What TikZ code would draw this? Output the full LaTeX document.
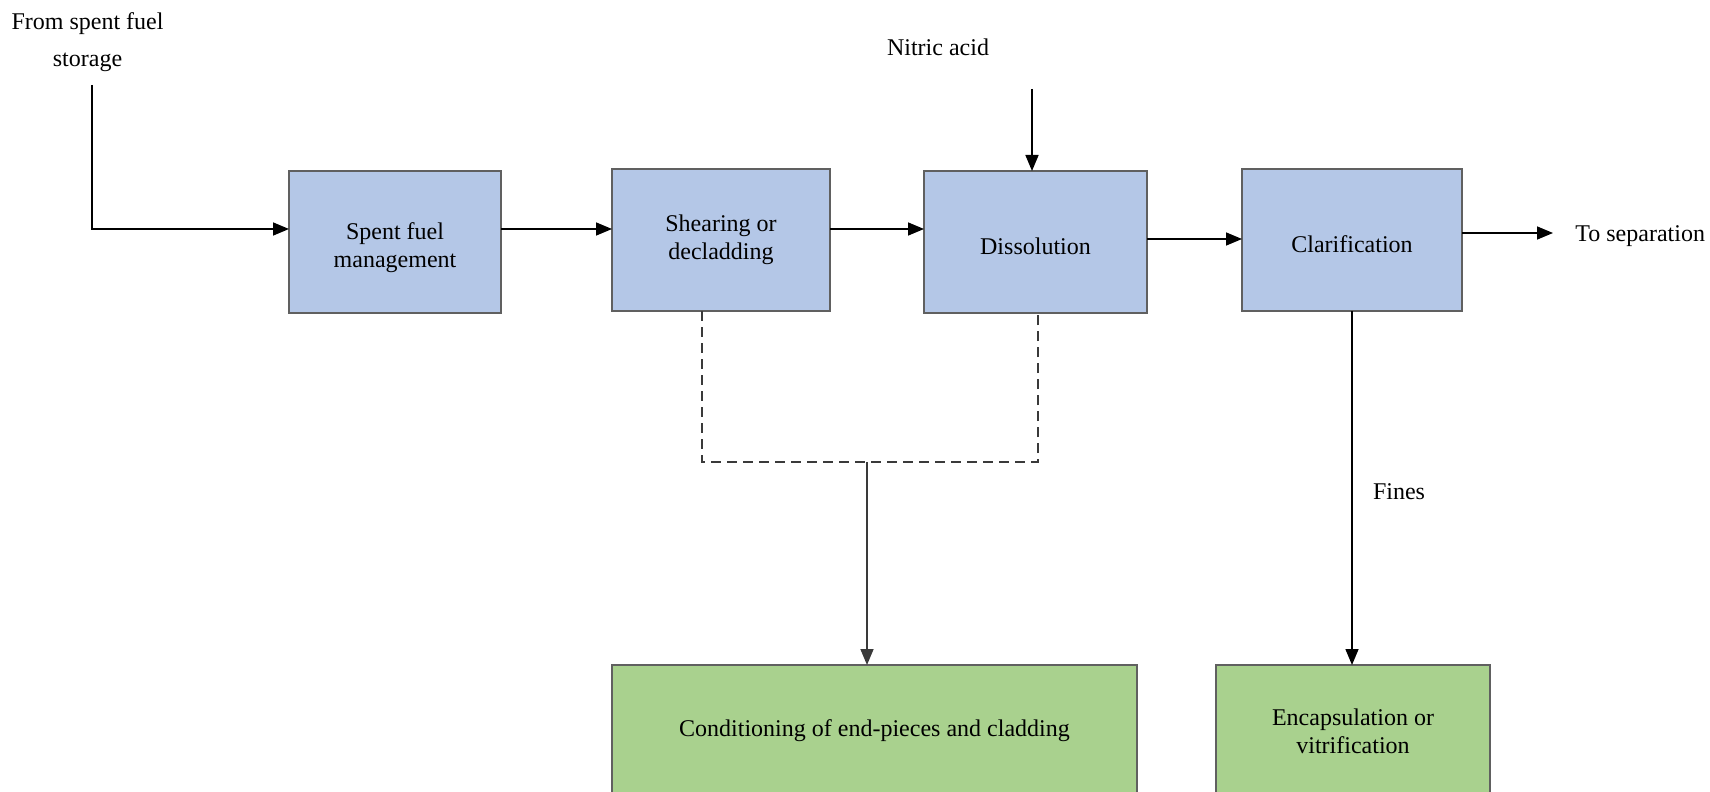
\documentclass[tikz,border=0pt]{standalone}
\usepackage{fontspec}
\setmainfont{Liberation Serif}
\usetikzlibrary{arrows.meta}
\definecolor{boxblue}{HTML}{B4C7E7}
\definecolor{boxgreen}{HTML}{A9D18E}
\definecolor{boxedge}{HTML}{606060}
\definecolor{darkline}{HTML}{3A3A3A}
\tikzset{
  every node/.style={font=\fontsize{12}{14}\selectfont},
  procbox/.style={draw=boxedge, line width=1.2pt, fill=boxblue, inner sep=0pt, outer sep=0pt, align=center},
  endbox/.style={draw=boxedge, line width=1.2pt, fill=boxgreen, inner sep=0pt, outer sep=0pt, align=center},
  lbl/.style={inner sep=0pt, align=center},
  arr/.style={line width=0.8pt, -{Triangle[length=8pt,width=6.5pt]}},
  dashline/.style={line width=0.9pt, draw=darkline, dash pattern=on 5pt off 3pt},
}
\begin{document}
\begin{tikzpicture}[x=0.5pt,y=-0.5pt]
\useasboundingbox (0,0) rectangle (1710,792);
\clip (0,0) rectangle (1710,792);
\fill[white] (0,0) rectangle (1710,792);
% process boxes
\node[procbox, minimum width=106pt, minimum height=71pt] (sfm) at (395,242) {\rule{0pt}{13.7pt}Spent fuel\\management};
\node[procbox, minimum width=109pt, minimum height=71pt] (shear) at (721,240) {Shearing or\\decladding};
\node[procbox, minimum width=111.5pt, minimum height=71pt, text height=12.6pt] (diss) at (1035.5,242) {Dissolution};
\node[procbox, minimum width=110pt, minimum height=71pt, text height=12.6pt] (clar) at (1352,240) {Clarification};
\node[endbox, minimum width=262.5pt, minimum height=66pt] (cond) at (874.5,731) {Conditioning of end-pieces and cladding};
\node[endbox, minimum width=137pt, minimum height=66pt] (enc) at (1353,731) {Encapsulation or\\vitrification};
% labels
\node[lbl, anchor=north] (src) at (87.5,12) {From spent fuel\\[4.5pt]storage};
\node[lbl] (nitric) at (938,47) {Nitric acid};
\node[lbl, anchor=west] (tosep) at (1575,236) {To separation};
\node[lbl] (fines) at (1399,492) {Fines};
% coordinates
\coordinate (srcend) at (92,85);
\coordinate (srcbend) at (92,229);
\coordinate (row1) at (0,229);
\coordinate (row2) at (0,239);
\coordinate (row3) at (0,233);
\coordinate (nitrictop) at (1032,89);
\coordinate (septip) at (1553,233);
\coordinate (dl) at (702,462);
\coordinate (dr) at (1038,462);
\coordinate (dj) at (867,462);
% connectors
\draw[arr] (srcend) -- (srcbend) -- (sfm.west |- row1);
\draw[arr] (sfm.east |- row1) -- (shear.west |- row1);
\draw[arr] (shear.east |- row1) -- (diss.west |- row1);
\draw[arr] (diss.east |- row2) -- (clar.west |- row2);
\draw[arr] (clar.east |- row3) -- (septip);
\draw[arr] (nitrictop) -- (diss.north -| nitrictop);
\draw[dashline] (shear.south -| dl) -- (dl) -- (dr) -- (diss.south -| dr);
\draw[arr, draw=darkline, fill=darkline] (dj) -- (cond.north -| dj);
\draw[arr] (clar.south) -- (enc.north -| clar.south);
\end{tikzpicture}
\end{document}
